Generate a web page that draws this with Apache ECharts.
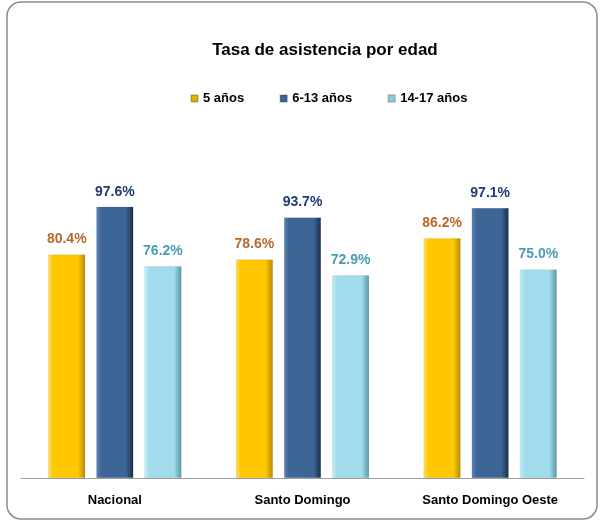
<!DOCTYPE html>
<html>
<head>
<meta charset="utf-8">
<script src="https://cdn.jsdelivr.net/npm/echarts@6/dist/echarts.min.js"></script>
<style>html,body{margin:0;padding:0;background:#fff}#c{width:600px;height:523px}</style>
</head>
<body>
<div id="c"></div>
<script>
const categories = ['Nacional', 'Santo Domingo', 'Santo Domingo Oeste'];
const seriesNames = ['5 años', '6-13 años', '14-17 años'];
const age5 = [80.4, 78.6, 86.2];
const age6_13 = [97.6, 93.7, 97.1];
const age14_17 = [76.2, 72.9, 75.0];

const FONT = '"Liberation Sans", Arial, sans-serif';
function grad(light, main, dark) {
  return {
    type: 'linear', x: 0, y: 0, x2: 1, y2: 0,
    colorStops: [
      {offset: 0, color: light},
      {offset: 0.13, color: main},
      {offset: 0.80, color: main},
      {offset: 1, color: dark}
    ]
  };
}
const styles = [
  {fill: grad('#FFE066', '#FFC800', '#B88A00'), icon: '#E0B000', label: '#B5692D'},
  {fill: grad('#5F86B5', '#3D6595', '#1B2E48'), icon: '#3D6595', label: '#1F3C73'},
  {fill: grad('#C8F0FA', '#A0DCEB', '#5B95A5'), icon: '#8FCCDC', label: '#4A9DB5'}
];
const dataSets = [age5, age6_13, age14_17];

const chart = echarts.init(document.getElementById('c'));
chart.setOption({
  backgroundColor: '#fff',
  animation: false,
  graphic: [{
    type: 'rect',
    shape: {x: 7, y: 2, width: 590, height: 517, r: 14},
    style: {fill: 'none', stroke: '#8c8c8c', lineWidth: 1.5},
    z: -1
  }],
  title: {
    text: 'Tasa de asistencia por edad',
    left: 320, top: 37, textAlign: 'center',
    textStyle: {fontFamily: FONT, fontSize: 17, fontWeight: 'bold', color: '#000'}
  },
  legend: {
    top: 87, left: 185,
    itemWidth: 7, itemHeight: 7, itemGap: 35,
    icon: 'rect',
    textStyle: {fontFamily: FONT, fontSize: 13, fontWeight: 'bold', color: '#000'},
    data: seriesNames.map((n, i) => ({name: n, itemStyle: {color: styles[i].icon}}))
  },
  grid: {left: 21, right: 16, top: 200, bottom: 45},
  xAxis: {
    type: 'category', data: categories,
    axisLine: {lineStyle: {color: '#a0a0a0', width: 1}},
    axisTick: {show: false},
    axisLabel: {interval: 0, margin: 16, fontFamily: FONT, fontSize: 13, fontWeight: 'bold', color: '#000'}
  },
  yAxis: {type: 'value', min: 0, max: 100, show: false, splitLine: {show: false}},
  series: dataSets.map((d, i) => ({
    name: seriesNames[i], type: 'bar', data: d,
    barWidth: 37, barGap: '30%',
    itemStyle: {color: styles[i].fill, borderColor: 'rgba(0,0,0,0.15)', borderWidth: 0.5},
    label: {
      show: true, position: 'top', distance: 8,
      formatter: p => p.value.toFixed(1) + '%',
      fontFamily: FONT, fontSize: 14, fontWeight: 'bold', color: styles[i].label
    }
  }))
});
</script>
</body>
</html>
